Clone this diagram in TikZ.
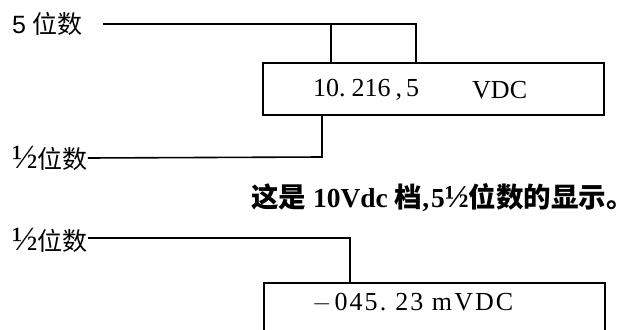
\documentclass[tikz,border=0pt]{standalone}
\usepackage{fontspec}
\setmainfont{Liberation Serif}
\newfontfamily\cjk{Noto Sans CJK SC}
\newfontfamily\lsans{Liberation Sans}
\newcommand\halfsym[1]{{\fontsize{#1}{#1}\selectfont ½}}
\begin{document}
\begin{tikzpicture}[x=1pt,y=-1pt,
  lbl/.style={inner sep=0pt,anchor=west,font=\fontsize{25}{25}\selectfont},
  boxtxt/.style={inner sep=0pt,anchor=west,font=\fontsize{26}{26}\selectfont},
  captxt/.style={inner sep=0pt,anchor=west,font=\fontsize{27.5}{27.5}\selectfont\bfseries},
  disp/.style={draw,line width=2.2pt,inner sep=0pt,minimum width=341pt},
  conn/.style={line width=1.6pt}]
\clip (0,0) rectangle (636,329);
\fill[white] (0,0) rectangle (636,329);
% top display
\node[disp,minimum height=52pt] (box1) at (433.5,89) {};
\node[boxtxt] (v1) at (313,90) {10.\hspace{6pt}216\hspace{5pt},\hspace{4pt}5};
\node[boxtxt] (u1) at (472,90) {VDC};
\node[lbl] (five) at (12,24) {{\lsans 5} {\cjk 位数}};
\node[lbl] (half1) at (12,158) {\halfsym{34}{\cjk 位数}};
\coordinate (t0) at (103,24);
\coordinate (t1) at (331,24);
\coordinate (t2) at (416,24);
\draw[conn] (t0) -- (t2) -- (t2 |- box1.north);
\draw[conn] (t1) -- (t1 |- box1.north);
\coordinate (h1) at (322,157);
\draw[conn] (h1 |- box1.south) -- (h1) -- (half1.east);
% caption
\node[captxt] (caption) at (251,198) {{\cjk\bfseries 这是} 10Vdc {\cjk\bfseries 档},\hspace{2pt}5\halfsym{32}{\cjk\bfseries 位数的显示。}};
% bottom display
\node[disp,minimum height=60pt,anchor=north west] (box2) at (263,282) {};
\node[boxtxt] (v2) at (312,303) {\addfontfeature{LetterSpace=8}$-$\hspace{3pt}045.\hspace{9pt}23 mVDC};
\node[lbl] (half2) at (12,240) {\halfsym{34}{\cjk 位数}};
\coordinate (h2) at (350,238);
\draw[conn] (half2.east |- h2) -- (h2) -- (h2 |- box2.north);
\end{tikzpicture}
\end{document}
